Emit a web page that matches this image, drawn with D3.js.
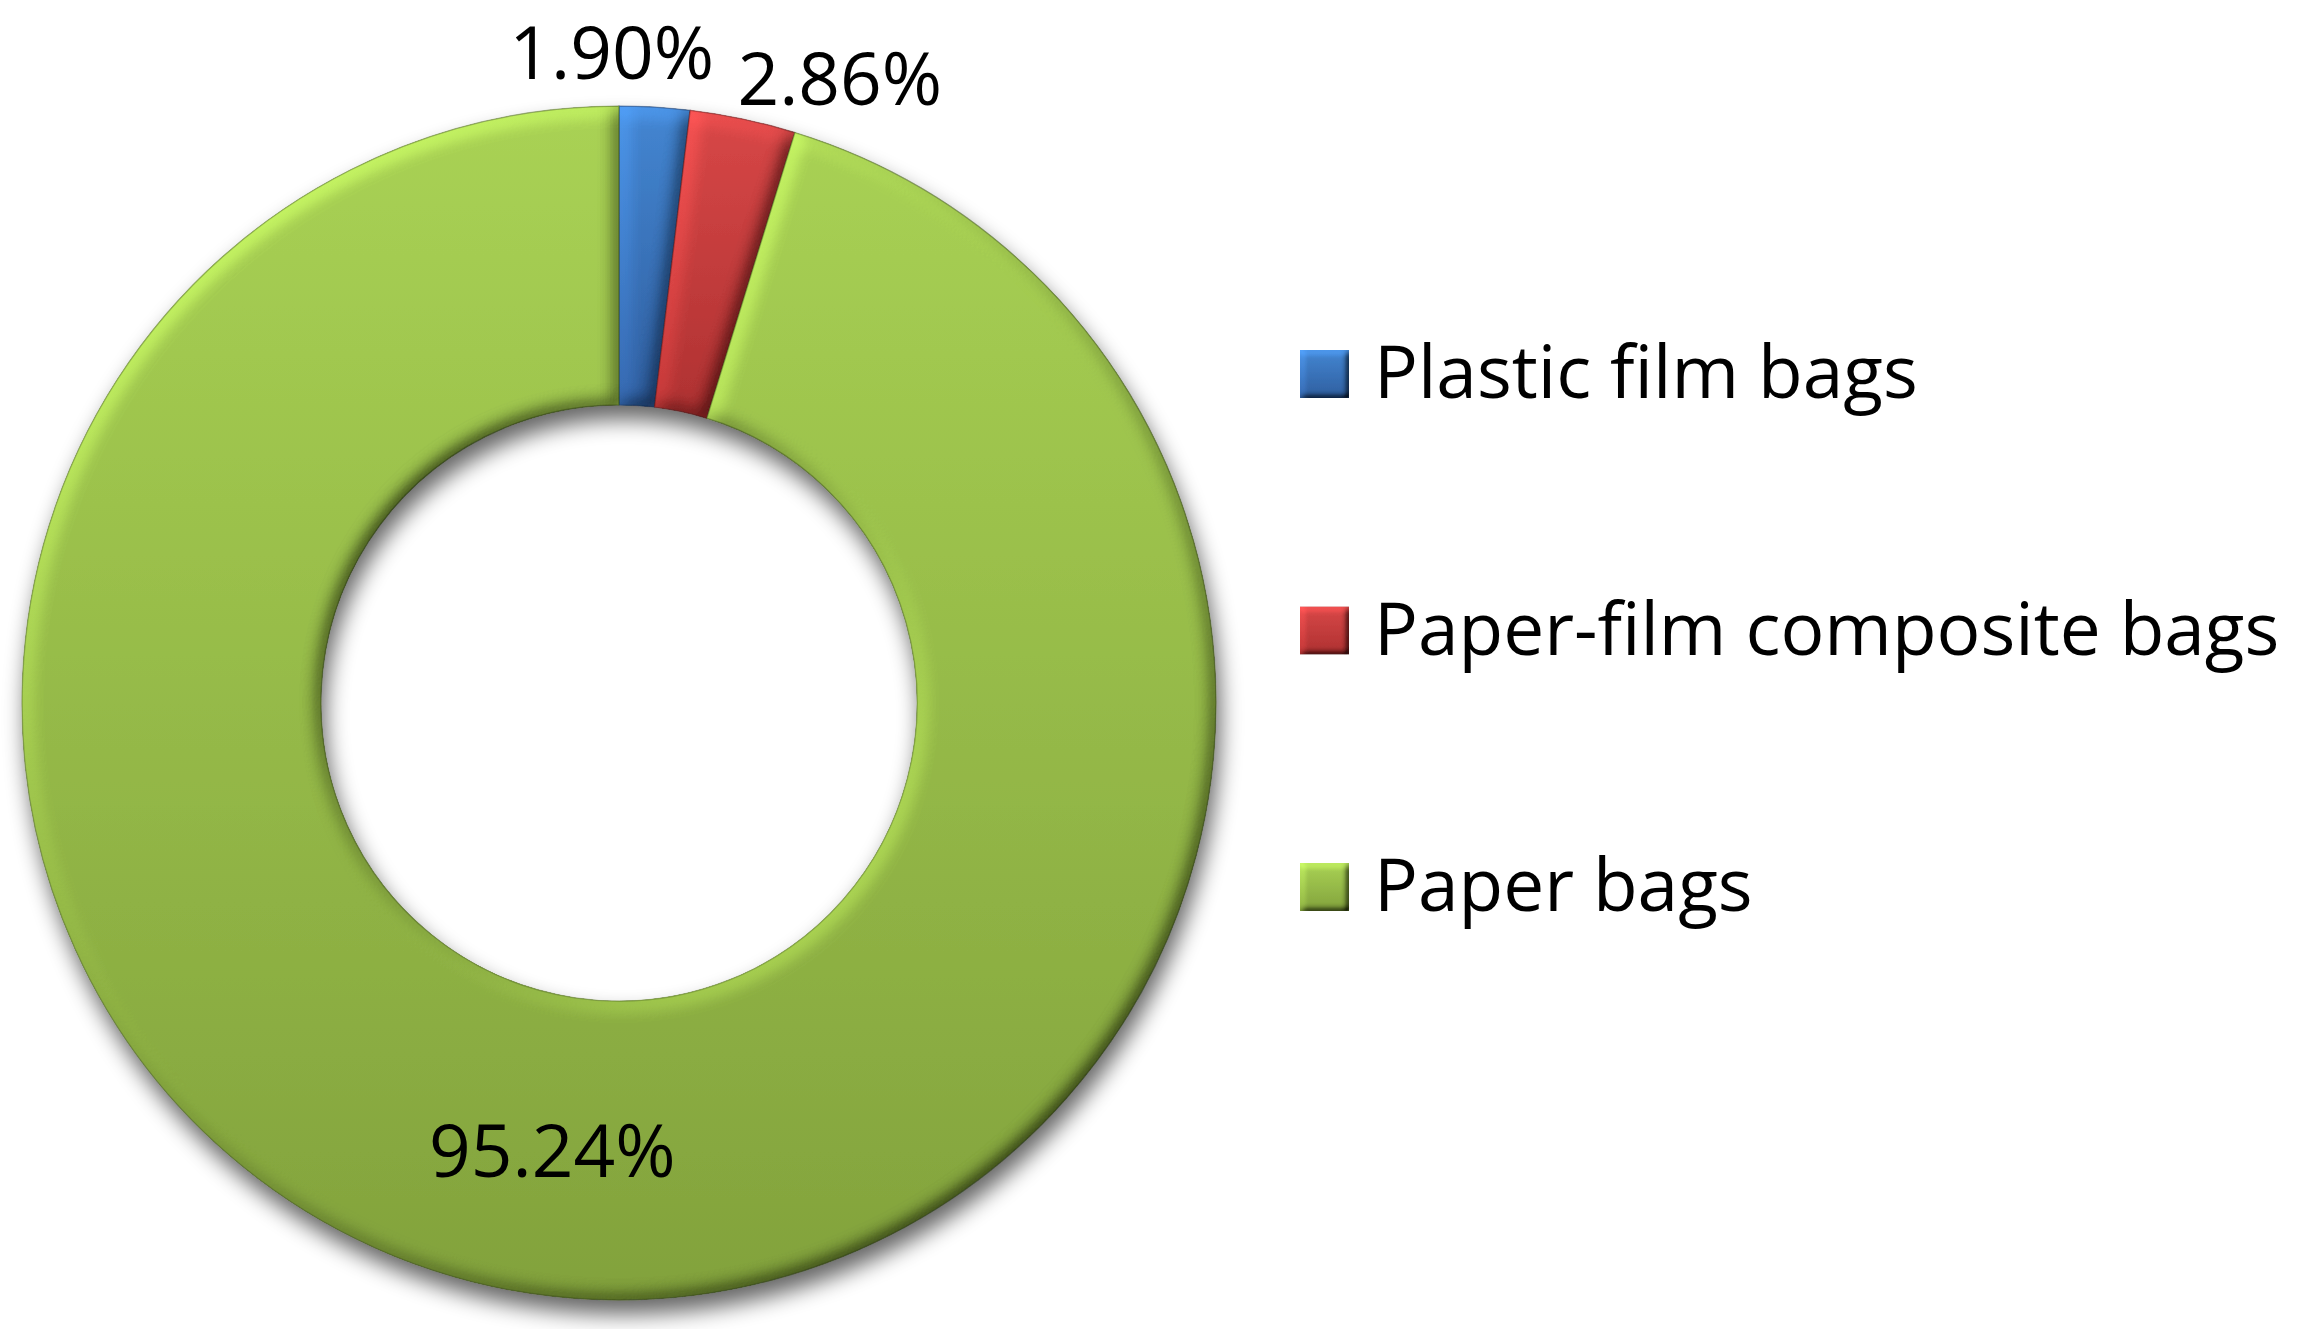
<!DOCTYPE html>
<html>
<head>
<meta charset="utf-8">
<script src="https://cdn.jsdelivr.net/npm/d3@7"></script>
<style>
  html, body { margin: 0; padding: 0; background: #fff; }
  svg text { font-family: "Open Sans", "Noto Sans", sans-serif; fill: #000; }
</style>
</head>
<body>
<div id="chart"></div>
<script>
// data
const categories = ["Plastic film bags", "Paper-film composite bags", "Paper bags"];
const shares = [1.90, 2.86, 95.24];
const shareLabels = ["1.90%", "2.86%", "95.24%"];

// colours (top / bottom of each slice gradient)
const colors = {
    top:    ["#4386D2", "#D84747", "#A9D254"],
    bottom: ["#2F5E9F", "#AE3131", "#82A23C"],
    edge:   ["#24487a", "#7a2222", "#5d7a2a"]
};

const width = 2301;
const height = 1329;
const cx = 619, cy = 703;
const outerR = 597, innerR = 298;
const fontSize = 73;

const svg = d3.select("#chart").append("svg")
    .attr("width", width)
    .attr("height", height);

const defs = svg.append("defs");

// soft drop shadow for the whole ring
const shadow = defs.append("filter").attr("id", "shadow")
    .attr("x", "-10%").attr("y", "-10%").attr("width", "125%").attr("height", "125%");
shadow.append("feGaussianBlur").attr("in", "SourceAlpha").attr("stdDeviation", 11);
shadow.append("feOffset").attr("dx", 4).attr("dy", 14).attr("result", "off");
shadow.append("feComponentTransfer").attr("in", "off").attr("result", "sh")
    .append("feFuncA").attr("type", "linear").attr("slope", 0.6);
const merge = shadow.append("feMerge");
merge.append("feMergeNode").attr("in", "sh");
merge.append("feMergeNode").attr("in", "SourceGraphic");

// bevel made with a lighting filter on the blurred alpha
function bevelFilter(id, blur, scale, elevation) {
    const f = defs.append("filter").attr("id", id)
        .attr("x", "-20%").attr("y", "-20%").attr("width", "140%").attr("height", "140%");
    f.append("feGaussianBlur").attr("in", "SourceAlpha").attr("stdDeviation", blur).attr("result", "blur");
    f.append("feDiffuseLighting").attr("in", "blur").attr("surfaceScale", scale)
        .attr("diffuseConstant", 1).attr("lighting-color", "#fff").attr("result", "light")
        .append("feDistantLight").attr("azimuth", 225).attr("elevation", elevation);
    // flat areas keep their colour, slopes facing the light get brighter
    const k = 1 / Math.sin(elevation * Math.PI / 180);
    f.append("feComposite").attr("in", "SourceGraphic").attr("in2", "light")
        .attr("operator", "arithmetic").attr("k1", k).attr("k2", 0).attr("k3", 0).attr("k4", 0)
        .attr("result", "lit");
    f.append("feComposite").attr("in", "lit").attr("in2", "SourceAlpha").attr("operator", "in");
}
bevelFilter("bevel", 9, 7, 42);
bevelFilter("bevelSmall", 3, 4, 42);

categories.forEach((c, i) => {
    const g = defs.append("linearGradient").attr("id", "grad" + i)
        .attr("x1", 0).attr("y1", 0).attr("x2", 0).attr("y2", 1);
    g.append("stop").attr("offset", "0%").attr("stop-color", colors.top[i]);
    g.append("stop").attr("offset", "100%").attr("stop-color", colors.bottom[i]);
});

const pie = d3.pie().sort(null).value(d => d);
const arcs = pie(shares);

const arc = d3.arc().innerRadius(innerR).outerRadius(outerR);
const labelArc = d3.arc().innerRadius(outerR + 52).outerRadius(outerR + 52);

const ring = svg.append("g")
    .attr("transform", `translate(${cx}, ${cy})`)
    .attr("filter", "url(#shadow)");

ring.selectAll("path")
    .data(arcs)
    .enter().append("path")
    .attr("d", arc)
    .attr("fill", (d, i) => `url(#grad${i})`)
    .attr("stroke", (d, i) => colors.edge[i])
    .attr("stroke-width", 1.5)
    .attr("stroke-opacity", 0.6)
    .attr("filter", "url(#bevel)");

// data labels: small slices outside, large one inside
const labelNudge = [[-46, -2], [86, 11], [0, 5]];
const labels = svg.append("g").attr("transform", `translate(${cx}, ${cy})`);
labels.selectAll("text")
    .data(arcs)
    .enter().append("text")
    .attr("text-anchor", "middle")
    .attr("font-size", fontSize)
    .attr("x", (d, i) => (d.data > 10 ? arc.centroid(d) : labelArc.centroid(d))[0] + labelNudge[i][0])
    .attr("y", (d, i) => (d.data > 10 ? arc.centroid(d) : labelArc.centroid(d))[1] + labelNudge[i][1] + fontSize * 0.36)
    .text((d, i) => shareLabels[i]);

// legend
const legendY = d3.scalePoint().domain(categories).range([398, 911]);
const legend = svg.append("g").attr("transform", "translate(1300, 0)");
const item = legend.selectAll("g")
    .data(categories)
    .enter().append("g")
    .attr("transform", d => `translate(0, ${legendY(d)})`);

item.append("rect")
    .attr("x", 0).attr("y", -48)
    .attr("width", 49).attr("height", 48)
    .attr("fill", (d, i) => `url(#grad${i})`)
    .attr("filter", "url(#bevelSmall)");

item.append("text")
    .attr("x", 74).attr("y", 0)
    .attr("font-size", fontSize)
    .text(d => d);
</script>
</body>
</html>
